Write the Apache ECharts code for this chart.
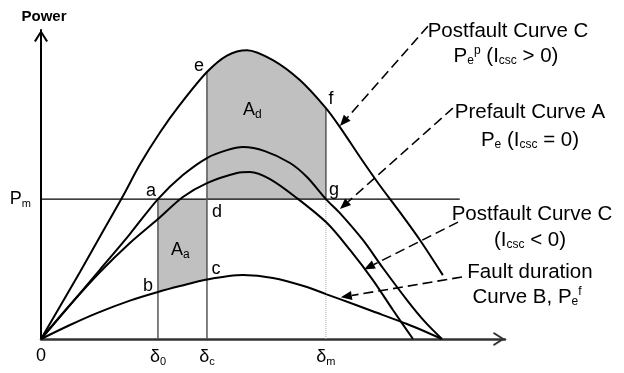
<!DOCTYPE html>
<html>
<head>
<meta charset="utf-8">
<script src="https://cdn.jsdelivr.net/npm/echarts@6/dist/echarts.min.js"></script>
<style>
html, body { margin: 0; padding: 0; background: #fff; }
#main { width: 624px; height: 373px; }
</style>
</head>
<body>
<div id="main"></div>
<script>
var chart = echarts.init(document.getElementById('main'));

// angle in degrees, power in per unit of the prefault peak
var PM = 0.729;
var D0 = 52.5, DC = 74.5, DM = 127.9;
var angleTicks = [0, D0, DC, DM];
var angleNames = [['0', ''], ['\u03b4', '0'], ['\u03b4', 'c'], ['\u03b4', 'm']];

// postfault curve C, Icsc > 0
var curveC = [[0,0],[17.5,0.349],[26.5,0.534],[36.8,0.745],[44.4,0.909],[53.4,1.076],
  [62.4,1.221],[74.5,1.391],[83.5,1.477],[92.5,1.505],[104.1,1.453],
  [116.2,1.349],[127.9,1.203],[134.2,1.104],[143.2,0.948],[151.3,0.813],[161.1,0.661],
  [170.1,0.516],[180.4,0.333]];
// prefault curve A
var curveA = [[0,0],[13.0,0.177],[26.5,0.362],[39.9,0.547],[52.5,0.729],[63.7,0.854],
  [74.5,0.943],[83.5,0.984],[90.7,1.0],[100.5,0.979],[111.8,0.917],[119.4,0.844],
  [127.9,0.729],[134.2,0.656],[144.5,0.516],[153.5,0.370],[164.3,0.203],[172.4,0.089],[180,0]];
// postfault curve C, Icsc < 0
var curveCn = [[0,0],[13.0,0.177],[26.5,0.349],[39.9,0.5],[52.5,0.625],[63.7,0.740],
  [74.5,0.8125],[88.0,0.865],[93.8,0.870],[102.8,0.833],[114.9,0.734],[128.4,0.604],
  [138.7,0.464],[149.0,0.307],[158.0,0.151],[167.0,0]];
// fault duration curve B
var curveB = [[0,0],[13.0,0.073],[25.1,0.135],[39.9,0.2],[52.5,0.245],[62.4,0.276],
  [74.5,0.31],[90.7,0.333],[104.1,0.318],[119.4,0.271],[127.9,0.234],[134.2,0.208],
  [148.6,0.146],[164.3,0.078],[180,0]];

function valAt(arr, x) {
  for (var i = 0; i < arr.length; i++) if (arr[i][0] === x) return arr[i][1];
  return 0;
}
function between(arr, a, b) {
  return arr.filter(function (p) { return p[0] >= a && p[0] <= b; });
}

var FONT = "'Liberation Sans', Arial, sans-serif";
var arrowPath = 'path://M0,11 L7,0 L14,11 L12.2,11.8 L7,3.4 L1.8,11.8 Z';
var subRich = {
  b: { fontSize: 18, color: '#000', fontFamily: FONT },
  s: { fontSize: 11, color: '#000', fontFamily: FONT, verticalAlign: 'bottom', padding: [9, 0, 0, 0] }
};

function curve(name, data) {
  return {
    name: name, type: 'line', data: data, smooth: 0.3, symbol: 'none', z: 5,
    lineStyle: { color: '#000', width: 2 }
  };
}
function segment(data, color, width, type) {
  return {
    type: 'line', data: data, symbol: 'none', z: 3,
    lineStyle: { color: color, width: width, type: type || 'solid' }
  };
}

var option = {
  animation: false,
  backgroundColor: '#fff',
  grid: { left: 41, right: 119, top: 30, bottom: 34, outerBoundsMode: 'none', containLabel: false },
  xAxis: {
    type: 'value', min: 0, max: 208.3,
    name: 'Angle', nameLocation: 'end', nameGap: 0,
    nameTextStyle: { fontFamily: FONT, fontSize: 15, fontWeight: 'bold', color: '#000',
      align: 'center', verticalAlign: 'top', padding: [36, 0, 0, 0] },
    splitLine: { show: false },
    axisTick: { show: false },
    axisLine: { lineStyle: { color: '#333', width: 2.5 }, symbol: ['none', arrowPath],
      symbolSize: [14, 12], symbolOffset: [0, -6] },
    axisLabel: {
      customValues: angleTicks, margin: 8,
      formatter: function (v) {
        var i = angleTicks.indexOf(v);
        if (i < 0) return '';
        var n = angleNames[i];
        return '{b|' + n[0] + '}' + (n[1] ? '{s|' + n[1] + '}' : '');
      },
      rich: subRich
    }
  },
  yAxis: {
    type: 'value', min: 0, max: 1.61,
    name: 'Power', nameLocation: 'end', nameGap: 6,
    nameTextStyle: { fontFamily: FONT, fontSize: 15, fontWeight: 'bold', color: '#000', padding: [0, 0, 0, 6] },
    splitLine: { show: false },
    axisTick: { show: false },
    axisLine: { lineStyle: { color: '#000', width: 2 }, symbol: ['none', arrowPath],
      symbolSize: [14, 12], symbolOffset: [0, -6] },
    axisLabel: {
      customValues: [PM], margin: 10,
      formatter: function () { return '{b|P}{s|m}'; },
      rich: subRich
    }
  },
  series: [
    // accelerating area A_a, between Pm and curve B
    { type: 'line', data: between(curveB, D0, DC), symbol: 'none', z: 1,
      lineStyle: { width: 0, opacity: 0 },
      areaStyle: { color: '#c0c0c0', opacity: 1, origin: PM } },
    // decelerating area A_d, between Pm and curve C
    { type: 'line', data: between(curveC, DC, DM), smooth: 0.3, symbol: 'none', z: 1,
      lineStyle: { width: 0, opacity: 0 },
      areaStyle: { color: '#c0c0c0', opacity: 1, origin: PM } },
    segment([[0, PM], [188, PM]], '#000', 1.2),
    segment([[D0, 0], [D0, PM]], '#555', 1.5),
    segment([[DC, 0], [DC, valAt(curveC, DC)]], '#555', 1.5),
    segment([[DM, PM], [DM, valAt(curveC, DM)]], '#555', 1.5),
    segment([[DM, 0], [DM, PM]], '#aaa', 1, 'dotted'),
    curve('C', curveC),
    curve('A', curveA),
    curve('Cn', curveCn),
    curve('B', curveB)
  ]
};
chart.setOption(option);

// point letters, anchored on the chart points with a small pixel offset
var pointLabels = [
  ['a', [D0, PM], -7, -8],
  ['b', [D0, valAt(curveB, D0)], -10, -6],
  ['c', [DC, valAt(curveB, DC)], 9, -10],
  ['d', [DC, PM], 10, 13],
  ['e', [DC, valAt(curveC, DC)], -8, -6],
  ['f', [DM, valAt(curveC, DM)], 5, -9],
  ['g', [DM, PM], 8, -9],
  ['A{s|a}', [(D0 + DC) / 2, (PM + valAt(curveB, D0)) / 2], -2, 4],
  ['A{s|d}', [(DC + DM) / 2, 1.11], -14, -16]
];

// dashed leaders: [label end, arrow tip on the curve]
var leaders = [
  [[173.7, 1.630], [134.2, 1.11]],
  [[184.9, 1.203], [134.2, 0.677]],
  [[187.2, 0.609], [145.0, 0.362]],
  [[189.0, 0.323], [134.6, 0.217]]
];

var notes = [
  ['Postfault Curve C', 508, 31],
  ['P{s|e}{p|p} (I{s|csc} > 0)', 506, 56],
  ['Prefault Curve A', 530, 112],
  ['P{s|e} (I{s|csc} = 0)', 530, 140],
  ['Postfault Curve C', 532, 214],
  ['(I{s|csc} < 0)', 530, 240],
  ['Fault duration', 530, 272],
  ['Curve B, P{s|e}{p|f}', 527, 297]
];

function px(p) { return chart.convertToPixel({ gridIndex: 0 }, p); }

var elements = [];
var textRich = {
  s: { fontSize: 12, fontFamily: FONT, fill: '#000', verticalAlign: 'bottom', padding: [10, 0, 0, 0] },
  p: { fontSize: 12, fontFamily: FONT, fill: '#000', verticalAlign: 'top', padding: [0, 0, 8, 0] }
};
pointLabels.forEach(function (l) {
  var p = px(l[1]);
  elements.push({
    type: 'text', x: p[0] + l[2], y: p[1] + l[3], z: 20,
    style: { text: l[0], font: '18px ' + FONT, fill: '#000', align: 'center', verticalAlign: 'middle', rich: textRich }
  });
});
notes.forEach(function (n) {
  elements.push({
    type: 'text', x: n[1], y: n[2], z: 20,
    style: { text: n[0], font: '20.5px ' + FONT, fill: '#000', align: 'center', verticalAlign: 'middle', rich: textRich }
  });
});
leaders.forEach(function (l) {
  var s = px(l[0]), t = px(l[1]);
  var dx = t[0] - s[0], dy = t[1] - s[1];
  var len = Math.sqrt(dx * dx + dy * dy);
  var ux = dx / len, uy = dy / len;
  var bx = t[0] - ux * 11, by = t[1] - uy * 11;
  elements.push({
    type: 'line', z: 20,
    shape: { x1: s[0], y1: s[1], x2: bx, y2: by },
    style: { stroke: '#000', lineWidth: 1.6, lineDash: [10, 5] }
  });
  elements.push({
    type: 'polygon', z: 20,
    shape: { points: [[t[0], t[1]], [bx - uy * 4.5, by + ux * 4.5], [bx + uy * 4.5, by - ux * 4.5]] },
    style: { fill: '#000' }
  });
});
chart.setOption({ graphic: { elements: elements } });
</script>
</body>
</html>
